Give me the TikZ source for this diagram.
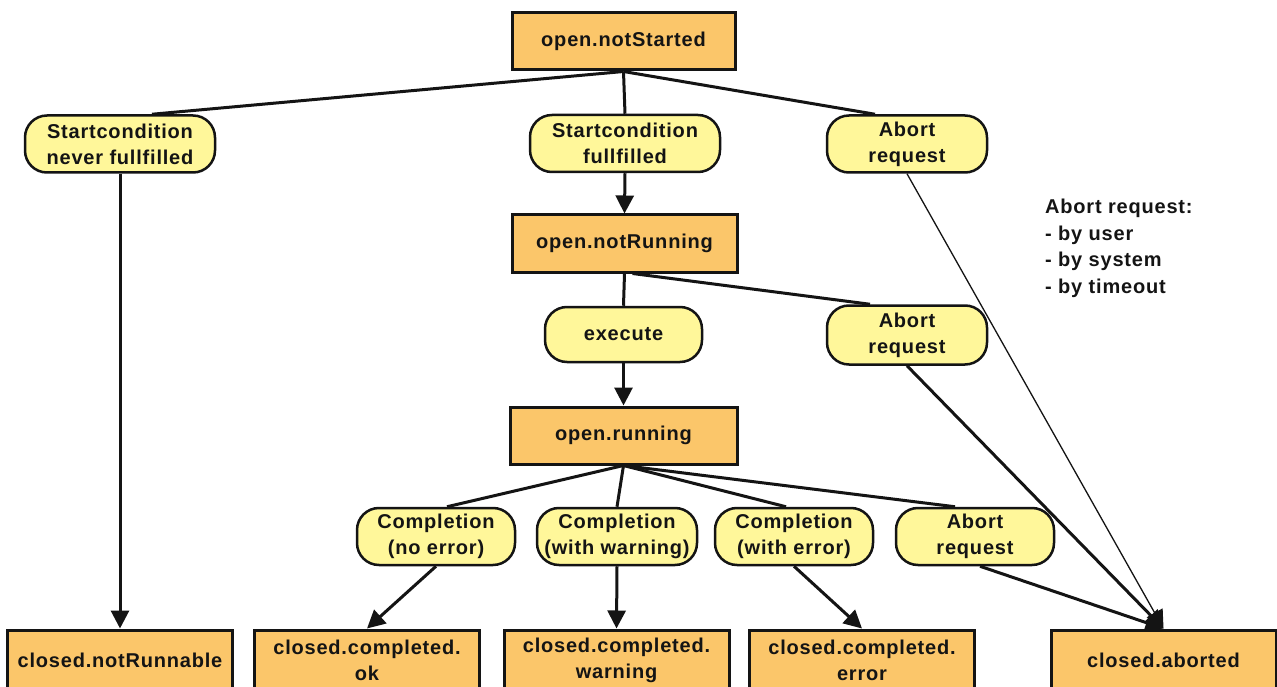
\documentclass[tikz,border=0pt]{standalone}
\usepackage{fontspec}
\newfontfamily\lbl{Liberation Sans}[LetterSpace=4]
\usetikzlibrary{arrows.meta}
\definecolor{statefill}{HTML}{FBC66A}
\definecolor{eventfill}{HTML}{FFF79A}
\definecolor{ink}{HTML}{141414}
\begin{document}
\begin{tikzpicture}[x=1pt,y=-1pt,
  every node/.style={font=\lbl\bfseries\fontsize{20}{26}\selectfont, align=center, inner sep=0pt, text=ink},
  state/.style={draw=ink, line width=3pt, fill=statefill, minimum width=225pt, minimum height=57pt},
  event/.style={draw=ink, line width=2.5pt, fill=eventfill, rounded corners=22pt, minimum width=#1, minimum height=57pt},
  event/.default=160pt,
  link/.style={draw=ink, line width=3pt},
  flow/.style={link, -{Triangle[width=18pt,length=18pt]}},
  thinflow/.style={draw=ink, line width=1.3pt, -{Triangle[width=18pt,length=18pt]}},
  note/.style={align=left, anchor=north west, font=\lbl\bfseries\fontsize{20}{26.5}\selectfont}
]
\useasboundingbox (0,0) rectangle (1277,687);
\clip (0,0) rectangle (1277,687);
\fill[white] (0,0) rectangle (1277,687);

% open states
\node[state, minimum width=223pt] (ns)  at (623.5,41.5)  {open.notStarted};
\node[state] (nr)  at (624.5,243.5) {open.notRunning};
\node[state, minimum width=227pt] (run) at (623.5,435.5) {open.running};

% events of the first level
\node[event=190pt] (scn) at (120,144)   {Startcondition\\never fullfilled};
\node[event=190pt] (scf) at (625,143.5) {Startcondition\\fullfilled};
\node[event]       (ab1) at (907,144)   {Abort\\request};

% events of the second level
\node[event=157pt, minimum height=55pt] (exe) at (623.5,334.5) {execute};
\node[event, minimum height=59pt]       (ab2) at (907,335)     {Abort\\request};

% events of the third level
\node[event=158pt] (c1)  at (436,536.5) {Completion\\(no error)};
\node[event]       (c2)  at (617,536.5) {Completion\\(with warning)};
\node[event=158pt] (c3)  at (794,536.5) {Completion\\(with error)};
\node[event=158pt] (ab3) at (975,536.5) {Abort\\request};

% closed states
\node[state, minimum height=60pt] (cnr) at (120,660)    {closed.notRunnable};
\node[state, minimum height=60pt] (cok) at (367,660)    {closed.completed.\\ok};
\node[state, minimum height=60pt] (cwa) at (616.5,660)  {closed.completed.\\warning};
\node[state, minimum height=60pt] (cer) at (862,660)    {closed.completed.\\error};
\node[state, minimum height=60pt] (cab) at (1163.5,660) {closed.aborted};

% explanation of the abort request
\node[note] (expl) at (1045,199) {Abort request:\\- by user\\- by system\\- by timeout};

% connectors from open.notStarted
\path[link] (ns.south) -- ([xshift=32pt]scn.north);
\path[link] (ns.south) -- (scf.north);
\path[link] (ns.south) -- ([xshift=-32pt]ab1.north);
\path[flow] (scf.south) -- (nr.north);
\path[flow] (scn.south) -- (cnr.north);

% connectors from open.notRunning
\path[link] (nr.south) -- (exe.north);
\path[link] ([xshift=8pt]nr.south) -- ([xshift=-37pt]ab2.north);
\path[flow] (exe.south) -- (run.north);

% connectors from open.running
\path[link] (run.south) -- ([xshift=11pt]c1.north);
\path[link] (run.south) -- (c2.north);
\path[link] (run.south) -- ([xshift=-8pt]c3.north);
\path[link] (run.south) -- ([xshift=-20pt]ab3.north);
\path[flow] (c1.south) -- (cok.north);
\path[flow] (c2.south) -- (cwa.north);
\path[flow] (c3.south) -- (cer.north);

% every abort request ends in closed.aborted
\path[flow] ([xshift=5pt]ab3.south) -- (cab.north);
\path[flow] (ab2.south) -- (cab.north);
\path[thinflow] (ab1.south) -- (cab.north);
\end{tikzpicture}
\end{document}
